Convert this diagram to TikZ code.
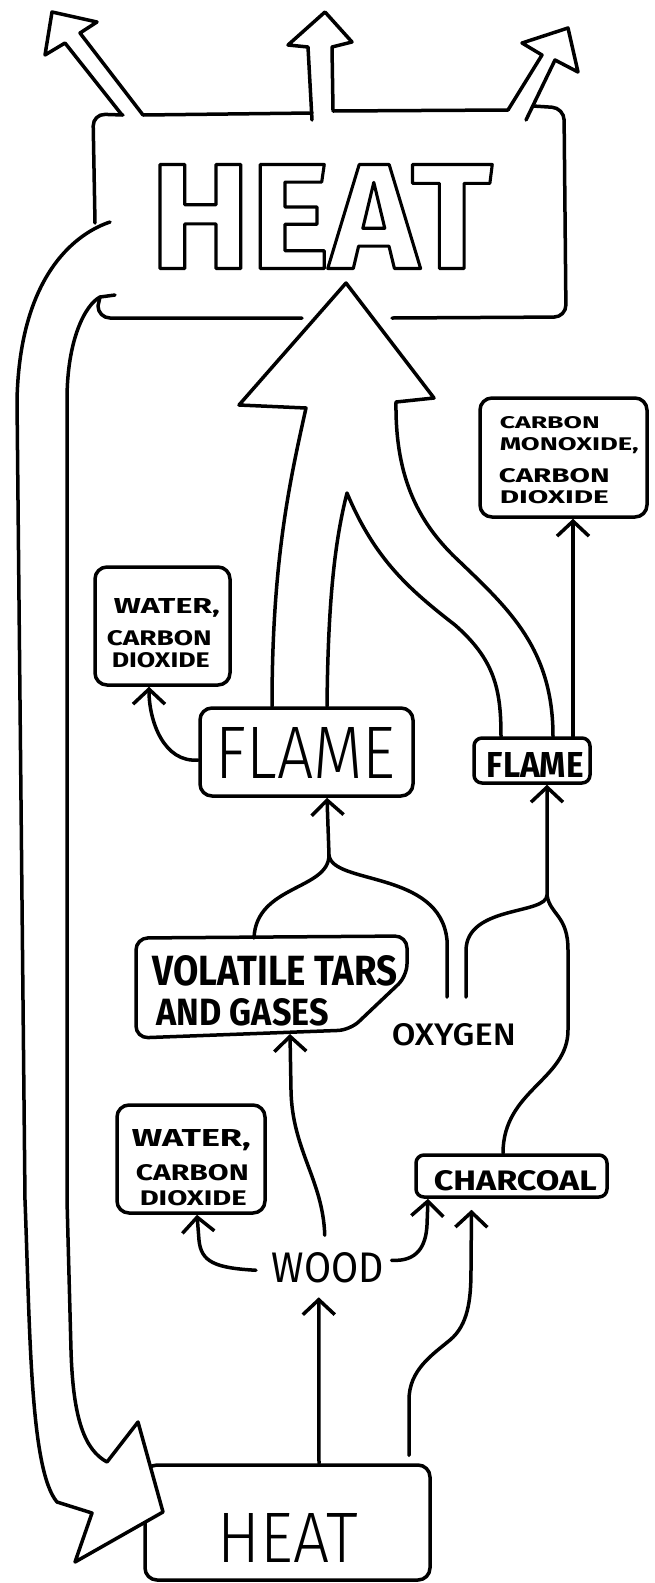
\documentclass[tikz,border=0pt]{standalone}
\usepackage{fontspec}
\setmainfont{Fira Sans}
\IfFontExistsTF{Fira Sans Light}{\newfontfamily\thinf{Fira Sans Light}}{\newfontfamily\thinf{Fira Sans}}
\IfFontExistsTF{Fira Sans Medium}{\newfontfamily\midf{Fira Sans Medium}}{\newfontfamily\midf{Fira Sans}}
\usetikzlibrary{arrows.meta}
\newcommand{\fitt}[3]{\resizebox{#1pt}{#2pt}{#3}}
\newcommand{\outlined}[1]{\special{pdf:literal direct 1 Tr 3 w}#1\special{pdf:literal direct 0 Tr}}
\tikzset{
  box/.style={draw, rounded corners=12pt, inner sep=0pt},
  arr/.style={-{Straight Barb[length=15pt,width=32pt]}},
  lbl/.style={inner sep=0pt, anchor=base west},
}
\begin{document}
\begin{tikzpicture}[x=1pt,y=-1pt,line width=3.5pt,line cap=round,line join=round]
\fill[white] (0,0) rectangle (654,1583);
\useasboundingbox (0,0) rectangle (654,1583);

% ---------- boxes ----------
\node[box, minimum width=135pt, minimum height=118pt] (waterA) at (162.5,626) {};
\node[box, minimum width=167pt, minimum height=119pt] (cm) at (563.5,457.5) {};
\node[box, minimum width=213pt, minimum height=88pt] (flameA) at (306.5,752) {};
\node[box, minimum width=116pt, minimum height=45pt, rounded corners=8pt] (flameB) at (532,760.5) {};
\node[box, minimum width=148pt, minimum height=108pt] (waterB) at (191,1159) {};
\node[box, minimum width=191pt, minimum height=42pt, rounded corners=8pt] (charcoal) at (511.5,1176) {};
\node[box, minimum width=285pt, minimum height=115pt] (heatB) at (287.5,1522.5) {};
\draw[rounded corners=12pt] (136,990) -- (136,938) -- (407,936) -- (407,976) -- (350,1030) -- (136,1038) -- cycle;
\coordinate (volB) at (290,1034);
\coordinate (volT) at (254,938);

% ---------- top HEAT box outline ----------
\draw[rounded corners=12pt] (123,115) -- (93,114) -- (95,223);
\draw (143,115) -- (312,113);
\draw (333,111) -- (508,110);
\draw[rounded corners=12pt] (533,106) -- (564,108) -- (566,317) -- (392,318);
\draw (302,318) -- (110,318) to[out=180,in=-90] (98,306) -- (100,297) -- (115,295);

% ---------- three heat arrows ----------
\draw (122,115) -- (65,43) -- (45,55) -- (52,12) -- (97,22) -- (80,33) -- (143,115);
\draw (312,120) -- (308,47) -- (288,45) -- (325,12) -- (352,42) -- (332,47) -- (333,110);
\draw (508,110) -- (542,55) -- (522,43) -- (568,28) -- (578,72) -- (555,60) -- (526,120);

% ---------- big central arrow ----------
\draw ([xshift=-34.5pt]flameA.north) .. controls (272,560) and (290,480) .. (306,408) -- (239,405) -- (346,283) -- (434,398) -- (396,402)
  .. controls (395,480) and (420,525) .. (460,562) .. controls (510,610) and (553,650) .. ([xshift=21pt]flameB.north);
\draw ([xshift=20.5pt]flameA.north) .. controls (328,600) and (335,540) .. (347,493)
  .. controls (375,560) and (410,590) .. (455,625) .. controls (495,660) and (501,690) .. ([xshift=-31pt]flameB.north);

% ---------- loop arrow ----------
\fill[white] (107,1462) -- (138,1422) -- (163,1512) -- (75,1562) -- (92,1513) -- cycle;
\draw (110,222) .. controls (80,232) and (20,270) .. (17,400) -- (25,1200)
  .. controls (30,1330) and (30,1470) .. (57,1502) -- (92,1513) -- (75,1562) -- (163,1512) -- (138,1422) -- (107,1462)
  .. controls (85,1450) and (73,1420) .. (71,1350) -- (67,1200) -- (67,400) .. controls (67,340) and (85,305) .. (100,297);

% ---------- texts ----------
\node[lbl] (tHeatA) at (148.5,268.5) {\fitt{342}{104}{\outlined{\fontsize{146}{146}\selectfont\bfseries HEAT}}};
\node[lbl] (tFlameA) at (214,778) {\fitt{180}{51}{\thinf FLAME}};
\node[lbl] (tFlameB) at (485,777) {\fitt{97}{25}{\bfseries FLAME}};
\node[lbl] (tCm1) at (498,428) {\fitt{100}{12}{\bfseries CARBON}};
\node[lbl] (tCm2) at (498,450) {\fitt{139}{13}{\bfseries MONOXIDE,}};
\node[lbl] (tCm3) at (497,482) {\fitt{111}{14}{\bfseries CARBON}};
\node[lbl] (tCm4) at (498,503) {\fitt{109}{13}{\bfseries DIOXIDE}};
\node[lbl] (tWa1) at (112,613) {\fitt{106}{15}{\bfseries WATER,}};
\node[lbl] (tWa2) at (105,645) {\fitt{105}{15}{\bfseries CARBON}};
\node[lbl] (tWa3) at (110,667) {\fitt{98}{15}{\bfseries DIOXIDE}};
\node[lbl] (tVol1) at (151,985) {\fitt{245}{30}{\bfseries VOLATILE TARS}};
\node[lbl] (tVol2) at (155,1025) {\fitt{172}{27}{\bfseries AND GASES}};
\node[lbl] (oxygen) at (390,1045) {\fitt{124}{22}{\midf OXYGEN}};
\node[lbl] (tWb1) at (130,1146) {\fitt{119}{17}{\bfseries WATER,}};
\node[lbl] (tWb2) at (134,1180) {\fitt{113}{16}{\bfseries CARBON}};
\node[lbl] (tWb3) at (138,1205) {\fitt{107}{15}{\bfseries DIOXIDE}};
\node[lbl] (tChar) at (432,1190) {\fitt{163}{20}{\bfseries CHARCOAL}};
\node[lbl] (wood) at (270,1282) {\fitt{112}{30}{WOOD}};
\node[lbl] (tHeatB) at (216,1562) {\fitt{140}{49}{\thinf HEAT}};

% ---------- single-line arrows ----------
\draw[arr] ([yshift=-8pt]flameA.west) to[out=185,in=-90] ([xshift=-13.5pt]waterA.south);
\draw[arr] ([xshift=41pt]flameB.north) -- ([xshift=9.5pt]cm.south);
% to big flame
\draw[arr] (volT) .. controls (256,885) and (329,890) .. (329,855) -- ([xshift=20.5pt]flameA.south);
\draw (329,855) .. controls (332,885) and (440,870) .. (447,940) -- (447,997);
% to small flame
\draw[arr] (466,997) -- (466,950) .. controls (467,905) and (547,915) .. (547,895) -- ([xshift=15pt]flameB.south);
\draw (547,895) .. controls (550,915) and (568,915) .. (568,950) -- (568,1030) .. controls (568,1080) and (503,1090) .. ([xshift=-8.5pt]charcoal.north);
% from wood
\draw[arr] ([xshift=-3pt,yshift=15pt]wood.north) .. controls (323,1180) and (292,1150) .. (291,1090) -- (volB);
\draw[arr] ([xshift=-14pt,yshift=-3pt]wood.west) .. controls (215,1268) and (201,1262) .. (199,1240) -- ([xshift=6pt]waterB.south);
\draw[arr] ([xshift=6pt,yshift=7pt]wood.east) .. controls (418,1262) and (426,1245) .. (427,1225) -- ([xshift=-83.5pt]charcoal.south);
% from bottom heat
\draw[arr] ([xshift=31.5pt]heatB.north) -- ([xshift=-9pt,yshift=-13pt]wood.south);
\draw[arr] ([xshift=121.5pt,yshift=8pt]heatB.north) -- (409,1400) .. controls (409,1370) and (432,1355) .. (450,1340)
  .. controls (468,1325) and (471,1300) .. (471,1270) -- ([xshift=-40pt,yshift=-11pt]charcoal.south);
\end{tikzpicture}
\end{document}
